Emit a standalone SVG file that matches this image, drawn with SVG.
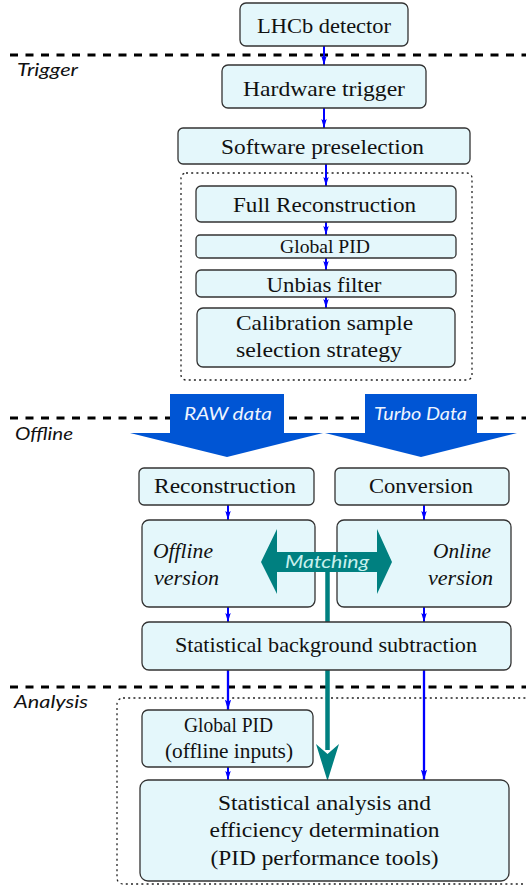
<svg xmlns="http://www.w3.org/2000/svg" width="526" height="888" viewBox="0 0 526 888">
  <style>
    .box { fill: #E4F7FB; stroke: #333; stroke-width: 1.3; }
    .sep { stroke: #000; stroke-width: 3; stroke-dasharray: 8 7.5; fill: none; }
    .dot { stroke: #222; stroke-width: 1.3; stroke-dasharray: 2 3.2; fill: none; }
    .t { font-family: "Liberation Serif", "Times New Roman", serif; font-size: 22px; fill: #111; text-anchor: middle; }
    .ti { font-family: "Liberation Serif", "Times New Roman", serif; font-size: 22px; font-style: italic; fill: #111; }
    .lab { font-family: Lato, "Liberation Sans", sans-serif; font-size: 18px; font-style: italic; fill: #111; }
    .wl { font-family: Lato, "Liberation Sans", sans-serif; font-size: 18px; font-style: italic; fill: #EEF4FF; text-anchor: middle; }
    .flow { stroke: #0000FF; stroke-width: 2; fill: none; marker-end: url(#ah); }
  </style>
  <defs>
    <marker id="ah" viewBox="0 0 10 6" refX="10" refY="3" markerWidth="4.5" markerHeight="2.8" orient="auto" markerUnits="strokeWidth">
      <path d="M0,0 L10,3 L0,6 L2,3 z" fill="#0000FF"/>
    </marker>
  </defs>

  <!-- stage separators -->
  <g id="separators">
    <line class="sep" x1="10" y1="55" x2="526" y2="55"/>
    <line class="sep" x1="10" y1="418" x2="526" y2="418"/>
    <line class="sep" x1="10" y1="687" x2="526" y2="687"/>
    <text class="lab" x="17" y="76" textLength="61" lengthAdjust="spacingAndGlyphs">Trigger</text>
    <text class="lab" x="15" y="440" textLength="58" lengthAdjust="spacingAndGlyphs">Offline</text>
    <text class="lab" x="14" y="708" textLength="74" lengthAdjust="spacingAndGlyphs">Analysis</text>
  </g>

  <!-- dotted groupings -->
  <g id="hlt-group">
    <rect class="dot" x="181" y="173" width="291" height="207" rx="5"/>
  </g>
  <g id="analysis-group">
    <rect class="dot" x="117" y="698" width="420" height="186" rx="6"/>
  </g>

  <!-- connectors -->
  <g id="connectors">
    <line class="flow" x1="324" y1="46" x2="324" y2="65"/>
    <line class="flow" x1="324" y1="108" x2="324" y2="128"/>
    <line class="flow" x1="326" y1="164" x2="326" y2="186"/>
    <line class="flow" x1="326" y1="222" x2="326" y2="235"/>
    <line class="flow" x1="326" y1="258" x2="326" y2="270"/>
    <line class="flow" x1="326" y1="297" x2="326" y2="308"/>
    <line class="flow" x1="228" y1="505" x2="228" y2="520"/>
    <line class="flow" x1="424" y1="505" x2="424" y2="520"/>
    <line class="flow" x1="228" y1="607" x2="228" y2="622"/>
    <line class="flow" x1="424" y1="607" x2="424" y2="622"/>
    <line class="flow" x1="228" y1="670" x2="228" y2="710" style="stroke-width:2.3"/>
    <line class="flow" x1="228" y1="767" x2="228" y2="780"/>
    <line class="flow" x1="424" y1="670" x2="424" y2="780" style="stroke-width:2.3"/>
    <!-- matching feed into analysis -->
    <line x1="327.5" y1="572" x2="327.5" y2="750" stroke="#008080" stroke-width="4.5"/>
    <path d="M316,744 L327.5,781 L339,744 L327.5,754 z" fill="#008080"/>
  </g>

  <!-- data stream arrows -->
  <g id="raw-data">
    <path d="M170,394 H284 V433 H323 L227,457 L130,433 H170 z" fill="#0055D4"/>
    <text class="wl" x="228" y="420" textLength="88" lengthAdjust="spacingAndGlyphs">RAW data</text>
  </g>
  <g id="turbo-data">
    <path d="M365,394 H477 V433 H517 L421,457 L325,433 H365 z" fill="#0055D4"/>
    <text class="wl" x="420.5" y="420" textLength="93" lengthAdjust="spacingAndGlyphs">Turbo Data</text>
  </g>

  <!-- nodes -->
  <g id="lhcb">
    <rect class="box" x="240" y="3" width="168" height="43" rx="6"/>
    <text class="t" x="324" y="33" textLength="134" lengthAdjust="spacingAndGlyphs">LHCb detector</text>
  </g>
  <g id="hardware-trigger">
    <rect class="box" x="222" y="65" width="204" height="43" rx="6"/>
    <text class="t" x="324" y="96" textLength="162" lengthAdjust="spacingAndGlyphs">Hardware trigger</text>
  </g>
  <g id="software-preselection">
    <rect class="box" x="178" y="128" width="292" height="36" rx="5"/>
    <text class="t" x="322.5" y="154" textLength="203" lengthAdjust="spacingAndGlyphs">Software preselection</text>
  </g>
  <g id="full-reconstruction">
    <rect class="box" x="196" y="186" width="260" height="36" rx="5"/>
    <text class="t" x="324.5" y="212" textLength="183" lengthAdjust="spacingAndGlyphs">Full Reconstruction</text>
  </g>
  <g id="global-pid">
    <rect class="box" x="196" y="235" width="260" height="23" rx="4"/>
    <text class="t" x="325" y="253" style="font-size:18.5px" textLength="90" lengthAdjust="spacingAndGlyphs">Global PID</text>
  </g>
  <g id="unbias-filter">
    <rect class="box" x="196" y="270" width="260" height="27" rx="5"/>
    <text class="t" x="324" y="292" textLength="115" lengthAdjust="spacingAndGlyphs">Unbias filter</text>
  </g>
  <g id="calibration-selection">
    <rect class="box" x="197" y="308" width="258" height="59" rx="6"/>
    <text class="t" x="236" y="330" style="text-anchor:start" textLength="177" lengthAdjust="spacingAndGlyphs">Calibration sample</text>
    <text class="t" x="236" y="357" style="text-anchor:start" textLength="166" lengthAdjust="spacingAndGlyphs">selection strategy</text>
  </g>
  <g id="reconstruction">
    <rect class="box" x="139" y="468" width="175" height="37" rx="5"/>
    <text class="t" x="225" y="493" textLength="142" lengthAdjust="spacingAndGlyphs">Reconstruction</text>
  </g>
  <g id="conversion">
    <rect class="box" x="335" y="468" width="174" height="37" rx="5"/>
    <text class="t" x="421" y="493" textLength="104" lengthAdjust="spacingAndGlyphs">Conversion</text>
  </g>
  <g id="offline-version">
    <rect class="box" x="142" y="520" width="173" height="87" rx="7"/>
    <text class="ti" x="153" y="558" textLength="60" lengthAdjust="spacingAndGlyphs">Offline</text>
    <text class="ti" x="154" y="585" textLength="65" lengthAdjust="spacingAndGlyphs">version</text>
  </g>
  <g id="online-version">
    <rect class="box" x="337" y="520" width="174" height="87" rx="7"/>
    <text class="ti" x="433" y="558" textLength="58" lengthAdjust="spacingAndGlyphs">Online</text>
    <text class="ti" x="428" y="585" textLength="65" lengthAdjust="spacingAndGlyphs">version</text>
  </g>
  <g id="matching">
    <path d="M261,562 L277,529 V552 H377 V529 L392,562 L377,594 V572 H277 V594 z" fill="#008080"/>
    <text class="wl" x="327" y="568" style="fill:#C8F0EE" textLength="84" lengthAdjust="spacingAndGlyphs">Matching</text>
  </g>
  <g id="background-subtraction">
    <rect class="box" x="142" y="622" width="369" height="48" rx="7"/>
    <text class="t" x="326" y="652" textLength="302" lengthAdjust="spacingAndGlyphs">Statistical background subtraction</text>
  </g>
  <g id="global-pid-offline">
    <rect class="box" x="142" y="710" width="171" height="57" rx="6"/>
    <text class="t" x="228.5" y="732" textLength="89" lengthAdjust="spacingAndGlyphs">Global PID</text>
    <text class="t" x="229" y="758" textLength="128" lengthAdjust="spacingAndGlyphs">(offline inputs)</text>
  </g>
  <g id="statistical-analysis">
    <rect class="box" x="140" y="780" width="369" height="101" rx="8"/>
    <text class="t" x="324.5" y="810" textLength="213" lengthAdjust="spacingAndGlyphs">Statistical analysis and</text>
    <text class="t" x="324.5" y="837" textLength="230" lengthAdjust="spacingAndGlyphs">efficiency determination</text>
    <text class="t" x="324.5" y="865" textLength="228" lengthAdjust="spacingAndGlyphs">(PID performance tools)</text>
  </g>
</svg>
